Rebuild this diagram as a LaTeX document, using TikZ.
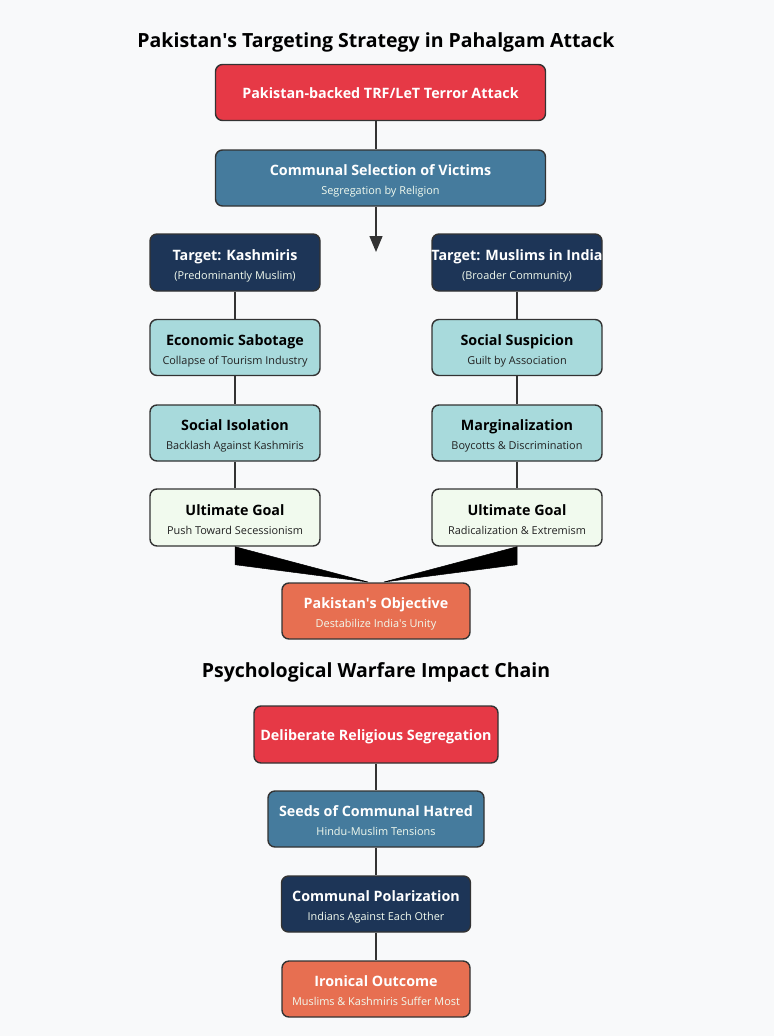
\documentclass[tikz,border=0pt]{standalone}
\usepackage{fontspec}
\setmainfont{Open Sans}
\usetikzlibrary{arrows.meta}
\definecolor{bg}{HTML}{F8F9FA}
\definecolor{edge}{HTML}{333333}
\definecolor{cred}{HTML}{E63946}
\definecolor{cblue}{HTML}{457B9D}
\definecolor{cnavy}{HTML}{1D3557}
\definecolor{cteal}{HTML}{A8DADC}
\definecolor{cpale}{HTML}{F1FAEE}
\definecolor{corange}{HTML}{E76F51}
\definecolor{subl}{HTML}{F1FAEE}
\definecolor{subd}{HTML}{222222}
\newcommand\q{\textquotesingle}
\tikzset{
  box/.style={draw=edge, line width=1.4pt, rounded corners=7pt, inner sep=0pt},
  ttl/.style={anchor=base, inner sep=0pt, font=\fontsize{14.3}{16}\selectfont\bfseries},
  bigttl/.style={anchor=base, inner sep=0pt, font=\fontsize{19.5}{22}\selectfont\bfseries, text=black},
  sub/.style={anchor=base, inner sep=0pt, font=\fontsize{10.9}{12}\selectfont},
  link/.style={draw=edge, line width=1.4pt},
  wedge/.style={fill=black, draw=black, line width=0.5pt}
}
\newcommand\darkbox[8]{%
  \node[box, fill=#2, minimum width=#5pt, minimum height=#6pt] (#1) at (#3,#4) {};
  \node[ttl, text=white] (#1t) at ([yshift=2.5pt]#1.center) {#7};
  \node[sub, text=subl] (#1s) at ([yshift=-16.5pt]#1.center) {#8};
}
\newcommand\lightbox[8]{%
  \node[box, fill=#2, minimum width=#5pt, minimum height=#6pt] (#1) at (#3,#4) {};
  \node[ttl, text=black] (#1t) at ([yshift=2.5pt]#1.center) {#7};
  \node[sub, text=subd] (#1s) at ([yshift=-16.5pt]#1.center) {#8};
}
\newcommand\onebox[7]{%
  \node[box, fill=#2, minimum width=#5pt, minimum height=#6pt] (#1) at (#3,#4) {};
  \node[ttl, text=white] (#1t) at ([yshift=-5.5pt]#1.center) {#7};
}
\begin{document}
\begin{tikzpicture}[x=1pt,y=-1pt]
\fill[bg] (0,0) rectangle (774,1036);
\useasboundingbox (0,0) rectangle (774,1036);

\node[bigttl] (title1) at (376,47) {Pakistan\q s Targeting Strategy in Pahalgam Attack};

\onebox{attack}{cred}{380.5}{92.5}{330}{56}{Pakistan-backed TRF/LeT Terror Attack}
\darkbox{select}{cblue}{380.5}{178}{330}{56}{Communal Selection of Victims}{Segregation by Religion}

\darkbox{tk}{cnavy}{235}{262.5}{170}{57}{Target: Kashmiris}{(Predominantly Muslim)}
\darkbox{tm}{cnavy}{517}{262.5}{170}{57}{Target: Muslims in India}{(Broader Community)}

\lightbox{econ}{cteal}{235}{347.5}{170}{56}{Economic Sabotage}{Collapse of Tourism Industry}
\lightbox{iso}{cteal}{235}{433}{170}{56}{Social Isolation}{Backlash Against Kashmiris}
\lightbox{lg}{cpale}{235}{517.5}{170}{57}{Ultimate Goal}{Push Toward Secessionism}

\lightbox{susp}{cteal}{517}{347.5}{170}{56}{Social Suspicion}{Guilt by Association}
\lightbox{marg}{cteal}{517}{433}{170}{56}{Marginalization}{Boycotts \& Discrimination}
\lightbox{rg}{cpale}{517}{517.5}{170}{57}{Ultimate Goal}{Radicalization \& Extremism}

\darkbox{obj}{corange}{376}{611}{188}{56}{Pakistan\q s Objective}{Destabilize India\q s Unity}

\node[bigttl] (title2) at (376,677) {Psychological Warfare Impact Chain};

\onebox{seg}{cred}{376}{734.5}{244}{57}{Deliberate Religious Segregation}
\darkbox{seeds}{cblue}{376}{819}{216}{56}{Seeds of Communal Hatred}{Hindu-Muslim Tensions}
\darkbox{pol}{cnavy}{376}{904}{189}{56}{Communal Polarization}{Indians Against Each Other}
\darkbox{iron}{corange}{376}{989}{188}{56}{Ironical Outcome}{Muslims \& Kashmiris Suffer Most}

\draw[link] (attack.south -| 376,0) -- (select.north -| 376,0);
\coordinate (split) at (376,252);
\draw[link, -{Triangle[length=16pt,width=13pt]}] (select.south -| 376,0) -- (split);
\draw[link] (tk) -- (econ);
\draw[link] (econ) -- (iso);
\draw[link] (iso) -- (lg);
\draw[link] (tm) -- (susp);
\draw[link] (susp) -- (marg);
\draw[link] (marg) -- (rg);
\coordinate (ltip) at (368,582);
\coordinate (rtip) at (384,582);
\fill[wedge] (lg.south) -- ++(0,18) -- (ltip) -- cycle;
\fill[wedge] (rg.south) -- ++(0,18) -- (rtip) -- cycle;
\draw[link] (seg) -- (seeds);
\draw[link] (seeds) -- (pol);
\draw[link] (pol) -- (iron);
\end{tikzpicture}
\end{document}
